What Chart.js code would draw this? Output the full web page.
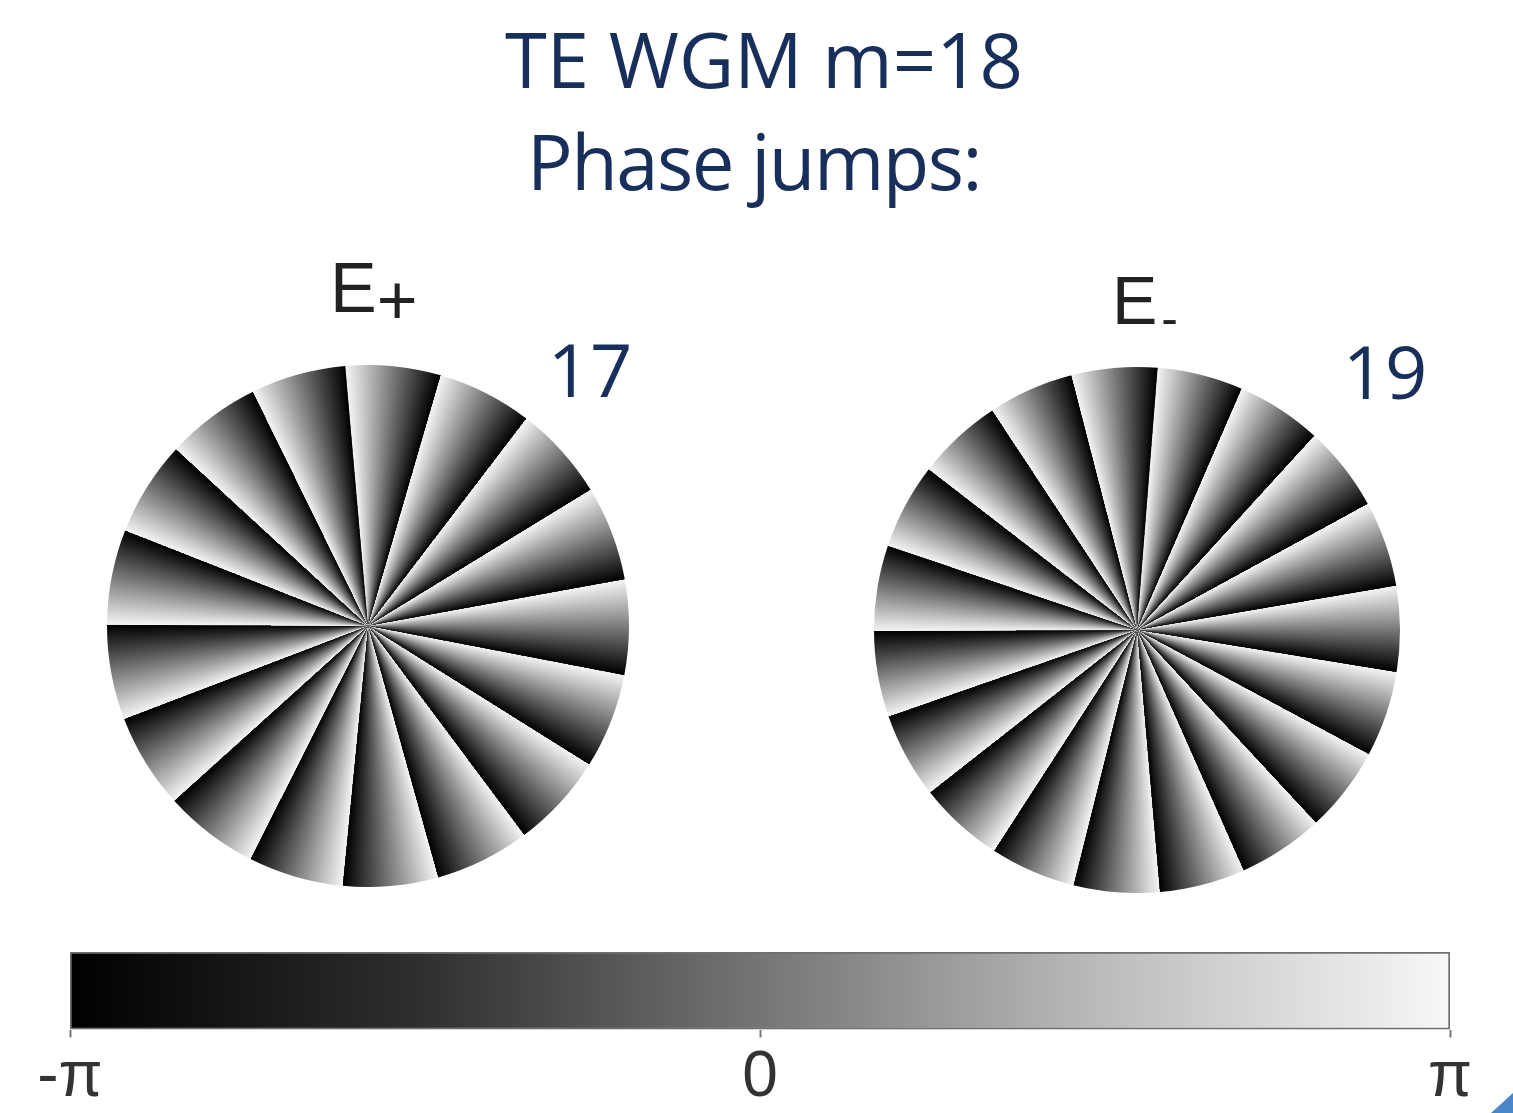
<!DOCTYPE html>
<html>
<head>
<meta charset="utf-8">
<script src="https://cdn.jsdelivr.net/npm/chart.js@4.4.1/dist/chart.umd.min.js"></script>
<style>
  html, body { margin: 0; padding: 0; background: #ffffff; }
  body { width: 1513px; height: 1113px; position: relative; overflow: hidden; }
  .abs { position: absolute; }
  .title { font-family: "Open Sans", sans-serif; color: #182f5b; font-size: 76px; line-height: 76px; white-space: nowrap; transform: translateX(-50%); }
  .count { font-family: "Open Sans", sans-serif; color: #182f5b; font-size: 74px; line-height: 74px; white-space: nowrap; transform: translateX(-50%); }
  .elabel { font-family: "Liberation Sans", Arial, sans-serif; color: #222; line-height: 1; white-space: nowrap; }
  #corner { right: 0; bottom: 0; width: 22px; height: 20px; background: #4a86c8; clip-path: polygon(100% 0, 100% 100%, 0 100%); }
</style>
</head>
<body>
<div class="abs title" style="left:764px; top:21px;">TE WGM m=18</div>
<div class="abs title" style="left:754px; top:123px; letter-spacing:-1.5px;">Phase jumps:</div>

<div class="abs elabel" style="left:330px; top:253px; font-size:70px;">E<span style="position:relative; top:12px;">+</span></div>
<div class="abs elabel" style="left:1112px; top:266px; font-size:68px;">E<span style="position:relative; top:11px; font-size:50px; margin-left:4px;">-</span></div>

<div class="abs count" style="left:590px; top:332px;">17</div>
<div class="abs count" style="left:1385px; top:334px;">19</div>

<div class="abs" style="left:107px; top:365px; width:522px; height:522px;"><canvas id="ePlus" width="522" height="522"></canvas></div>
<div class="abs" style="left:874px; top:367px; width:526px; height:526px;"><canvas id="eMinus" width="526" height="526"></canvas></div>

<div class="abs" style="left:0px; top:930px; width:1513px; height:183px;"><canvas id="colorbar" width="1513" height="183"></canvas></div>

<div class="abs" id="corner"></div>

<script>
// ---- data ----
const ePlusSectors  = ['1','2','3','4','5','6','7','8','9','10','11','12','13','14','15','16','17'];
const ePlusValues   = [1,1,1,1,1,1,1,1,1,1,1,1,1,1,1,1,1];
const eMinusSectors = ['1','2','3','4','5','6','7','8','9','10','11','12','13','14','15','16','17','18','19'];
const eMinusValues  = [1,1,1,1,1,1,1,1,1,1,1,1,1,1,1,1,1,1,1];
const phaseCategory = ['phase'];
const phaseRange    = [-3.14159, 3.14159];
const phaseTickValues = [-3.14159, 0, 3.14159];
const phaseTickLabels = ['-π', '0', 'π'];

// ---- styling helpers ----
function sectorGradient(rotationDeg) {
  return function (ctx) {
    const chart = ctx.chart;
    const area = chart.chartArea;
    if (!area) return '#888888';
    const vals = chart.data.datasets[0].data;
    const total = vals.reduce((a, b) => a + b, 0);
    let before = 0;
    for (let k = 0; k < ctx.dataIndex; k++) before += vals[k];
    const start = (rotationDeg - 90) * Math.PI / 180 + before / total * 2 * Math.PI;
    const frac = vals[ctx.dataIndex] / total;
    const cx = (area.left + area.right) / 2;
    const cy = (area.top + area.bottom) / 2;
    const g = chart.ctx.createConicGradient(start, cx, cy);
    g.addColorStop(0, '#f4f4f4');
    g.addColorStop(frac * 0.5, '#7a7a7a');
    g.addColorStop(frac, '#000000');
    g.addColorStop(1, '#000000');
    return g;
  };
}

function pieConfig(labels, values, rotationDeg) {
  return {
    type: 'pie',
    data: {
      labels: labels,
      datasets: [{
        data: values,
        backgroundColor: sectorGradient(rotationDeg),
        borderWidth: 0,
        hoverOffset: 0
      }]
    },
    options: {
      responsive: false,
      animation: false,
      events: [],
      rotation: rotationDeg,
      layout: { padding: 0 },
      plugins: { legend: { display: false }, tooltip: { enabled: false }, title: { display: false } }
    }
  };
}

new Chart(document.getElementById('ePlus'), pieConfig(ePlusSectors, ePlusValues, -5));
new Chart(document.getElementById('eMinus'), pieConfig(eMinusSectors, eMinusValues, 4.5));

// ---- colorbar ----
function barGradient(ctx) {
  const chart = ctx.chart;
  const area = chart.chartArea;
  if (!area) return '#777777';
  const g = chart.ctx.createLinearGradient(area.left, 0, area.right, 0);
  g.addColorStop(0, '#000000');
  g.addColorStop(0.25, '#2e2e2e');
  g.addColorStop(0.5, '#757575');
  g.addColorStop(0.75, '#bcbcbc');
  g.addColorStop(1, '#f7f7f7');
  return g;
}

new Chart(document.getElementById('colorbar'), {
  type: 'bar',
  data: {
    labels: phaseCategory,
    datasets: [{
      data: [phaseRange],
      backgroundColor: barGradient,
      borderColor: '#6f6f6f',
      borderWidth: 2,
      borderSkipped: false,
      barPercentage: 1,
      categoryPercentage: 1
    }]
  },
  options: {
    indexAxis: 'y',
    responsive: false,
    animation: false,
    events: [],
    layout: { padding: { left: 70, right: 63, top: 22, bottom: 6 } },
    plugins: { legend: { display: false }, tooltip: { enabled: false } },
    scales: {
      y: { display: false },
      x: {
        type: 'linear',
        min: phaseRange[0],
        max: phaseRange[1],
        border: { display: false },
        grid: { drawOnChartArea: false, drawTicks: true, tickLength: 8, tickWidth: 2, color: '#777777' },
        afterBuildTicks: (scale) => { scale.ticks = phaseTickValues.map(v => ({ value: v })); },
        ticks: {
          autoSkip: false,
          maxRotation: 0,
          padding: 9,
          color: '#333333',
          font: { family: 'Liberation Sans', size: 64, lineHeight: 1 },
          callback: function (value, index) { return phaseTickLabels[index]; }
        }
      }
    }
  }
});
</script>
</body>
</html>
